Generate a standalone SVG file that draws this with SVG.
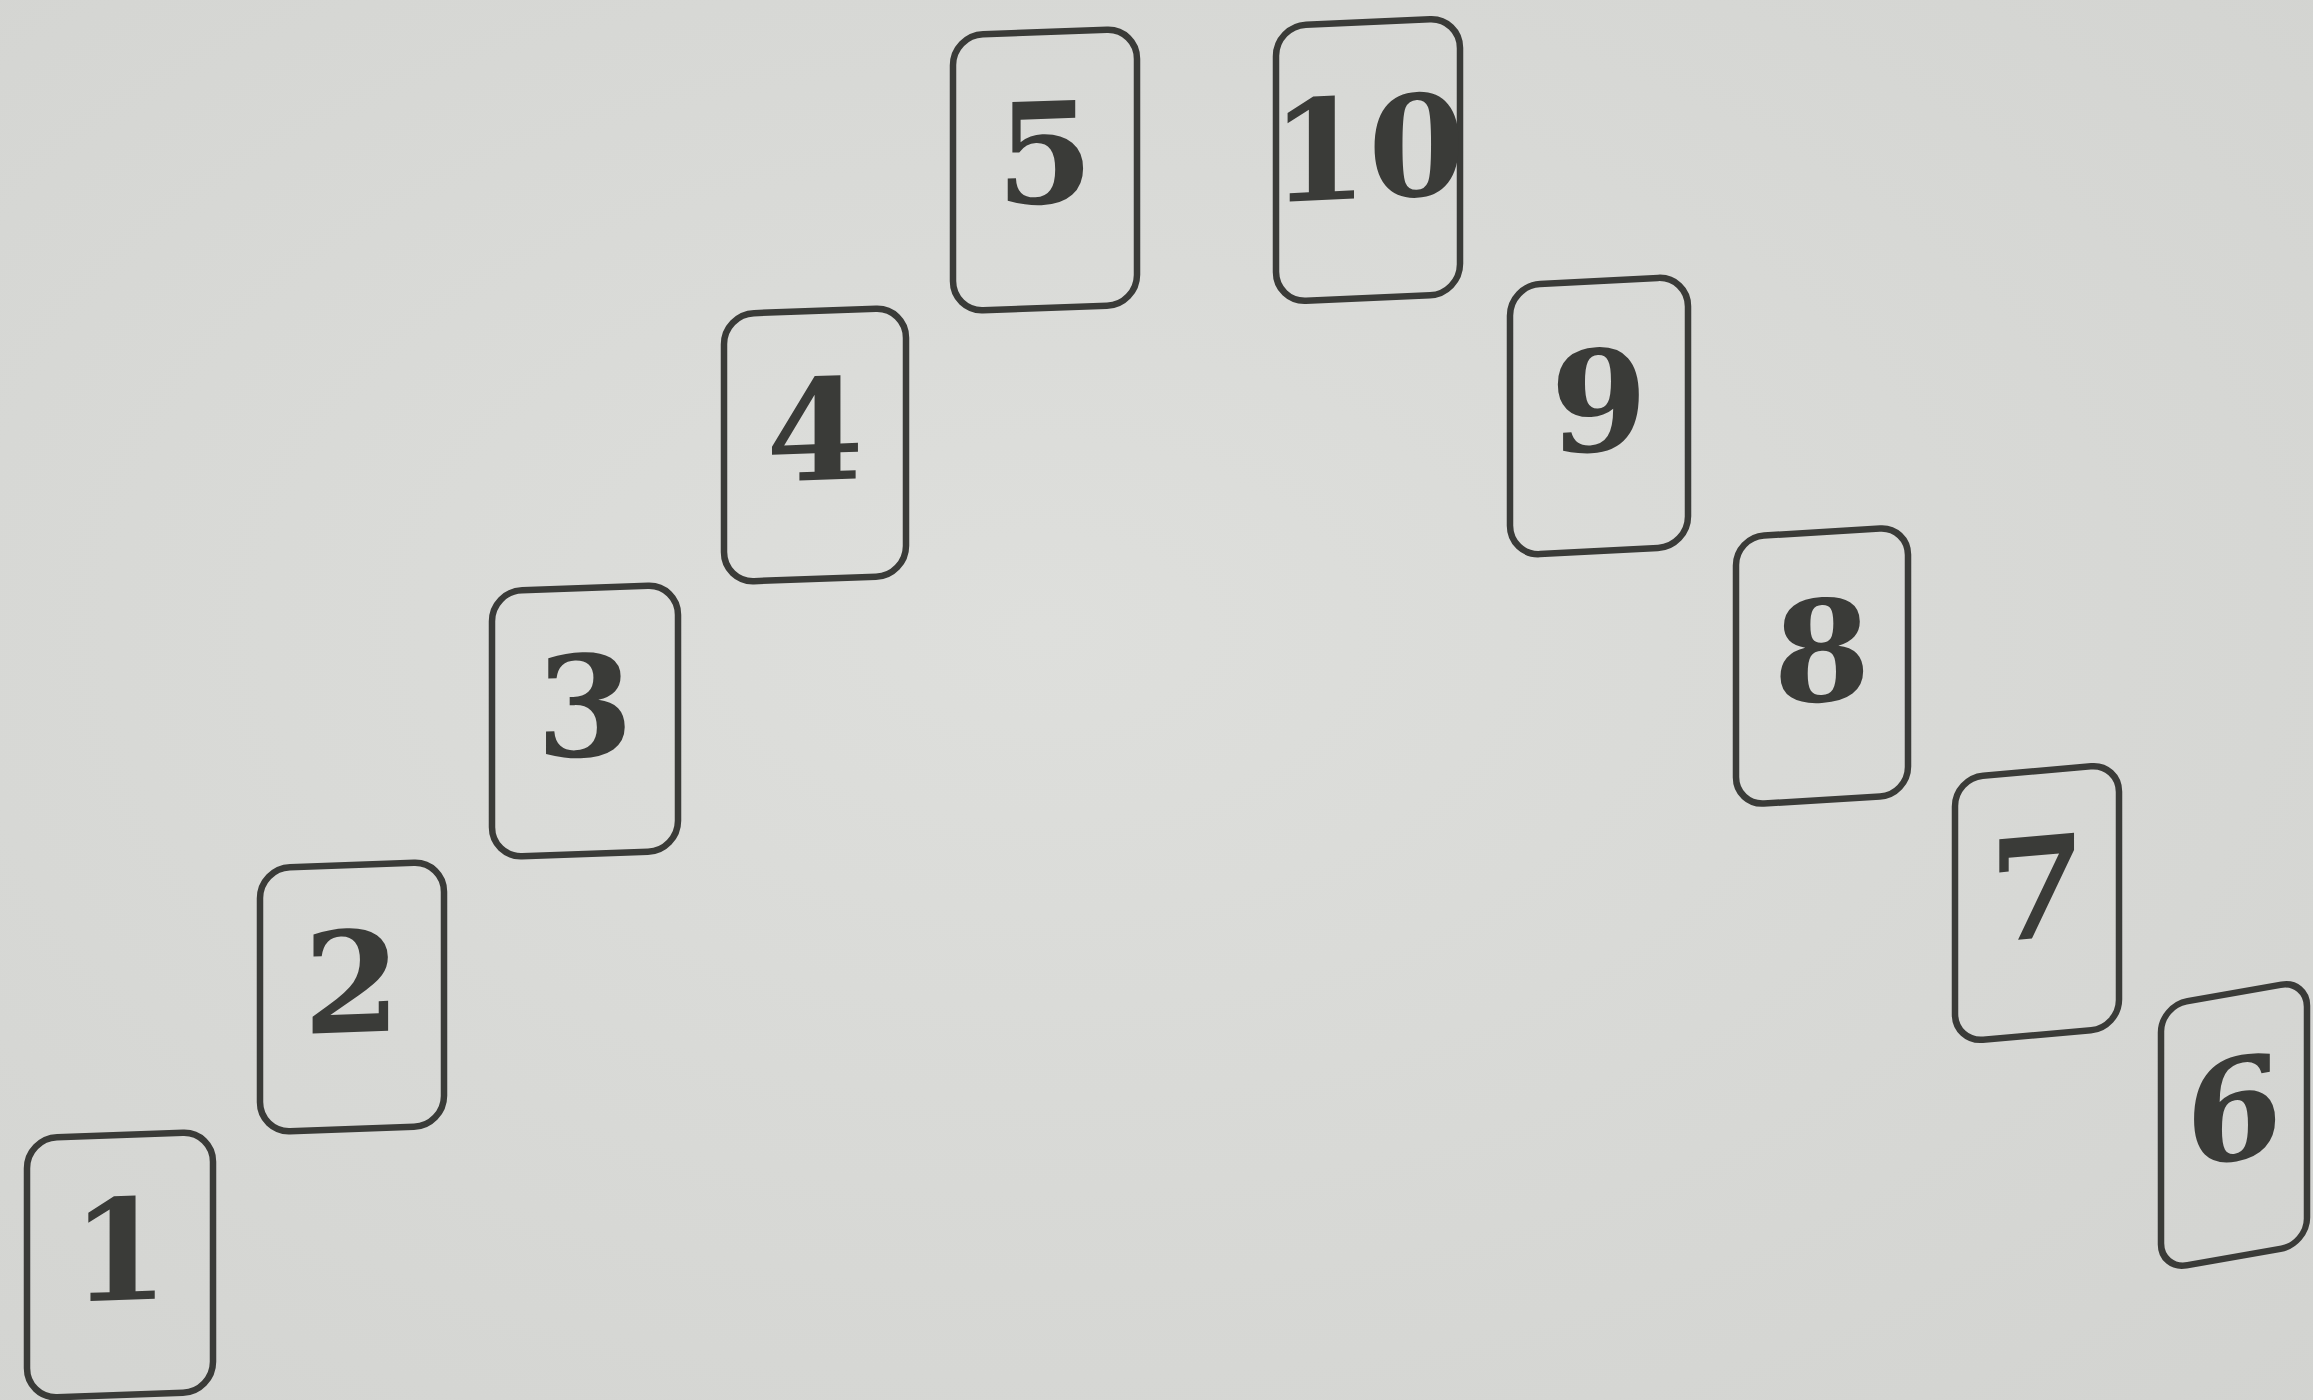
<svg xmlns="http://www.w3.org/2000/svg" width="2313" height="1400" viewBox="0 0 2313 1400">
<defs>
<radialGradient id="bg" cx="0.45" cy="0.45" r="0.8">
<stop offset="0" stop-color="#dedfdc"/>
<stop offset="1" stop-color="#d2d3d0"/>
</radialGradient>
<style>
.card{fill:none;stroke:#3a3b38;stroke-width:6.5}
.num{font-family:"DejaVu Serif","Liberation Serif",serif;font-weight:bold;font-size:140px;fill:#3a3b38;text-anchor:middle}
</style>
</defs>
<rect width="2313" height="1400" fill="url(#bg)"/>
<g id="card1" transform="translate(120,1265) skewY(-2)"><rect class="card" x="-93" y="-130" width="186" height="260" rx="30"/><text class="num" x="0" y="35">1</text></g>
<g id="card2" transform="translate(352,997) skewY(-2)"><rect class="card" x="-92" y="-132" width="184" height="264" rx="30"/><text class="num" x="0" y="35">2</text></g>
<g id="card3" transform="translate(585,721) skewY(-2)"><rect class="card" x="-93" y="-133" width="186" height="266" rx="30"/><text class="num" x="0" y="35">3</text></g>
<g id="card4" transform="translate(815,445) skewY(-2)"><rect class="card" x="-91" y="-134" width="182" height="268" rx="30"/><text class="num" x="0" y="35">4</text></g>
<g id="card5" transform="translate(1045,170) skewY(-2)"><rect class="card" x="-92" y="-138" width="184" height="276" rx="30"/><text class="num" x="0" y="33">5</text></g>
<g id="card10" transform="translate(1368,160) skewY(-2.5)"><rect class="card" x="-92" y="-138" width="184" height="276" rx="30"/><text class="num" x="0" y="38">10</text></g>
<g id="card9" transform="translate(1599,416) skewY(-3)"><rect class="card" x="-89" y="-135" width="178" height="270" rx="30"/><text class="num" x="0" y="35">9</text></g>
<g id="card8" transform="translate(1822,666) skewY(-3.5)"><rect class="card" x="-86" y="-134" width="172" height="268" rx="28"/><text class="num" x="0" y="35">8</text></g>
<g id="card7" transform="translate(2037,903) skewY(-5)"><rect class="card" x="-82" y="-132" width="164" height="264" rx="28"/><text class="num" x="0" y="35">7</text></g>
<g id="card6" transform="translate(2234,1125) skewY(-10)"><rect class="card" x="-73" y="-132" width="146" height="264" rx="26"/><text class="num" x="0" y="35">6</text></g>
</svg>
